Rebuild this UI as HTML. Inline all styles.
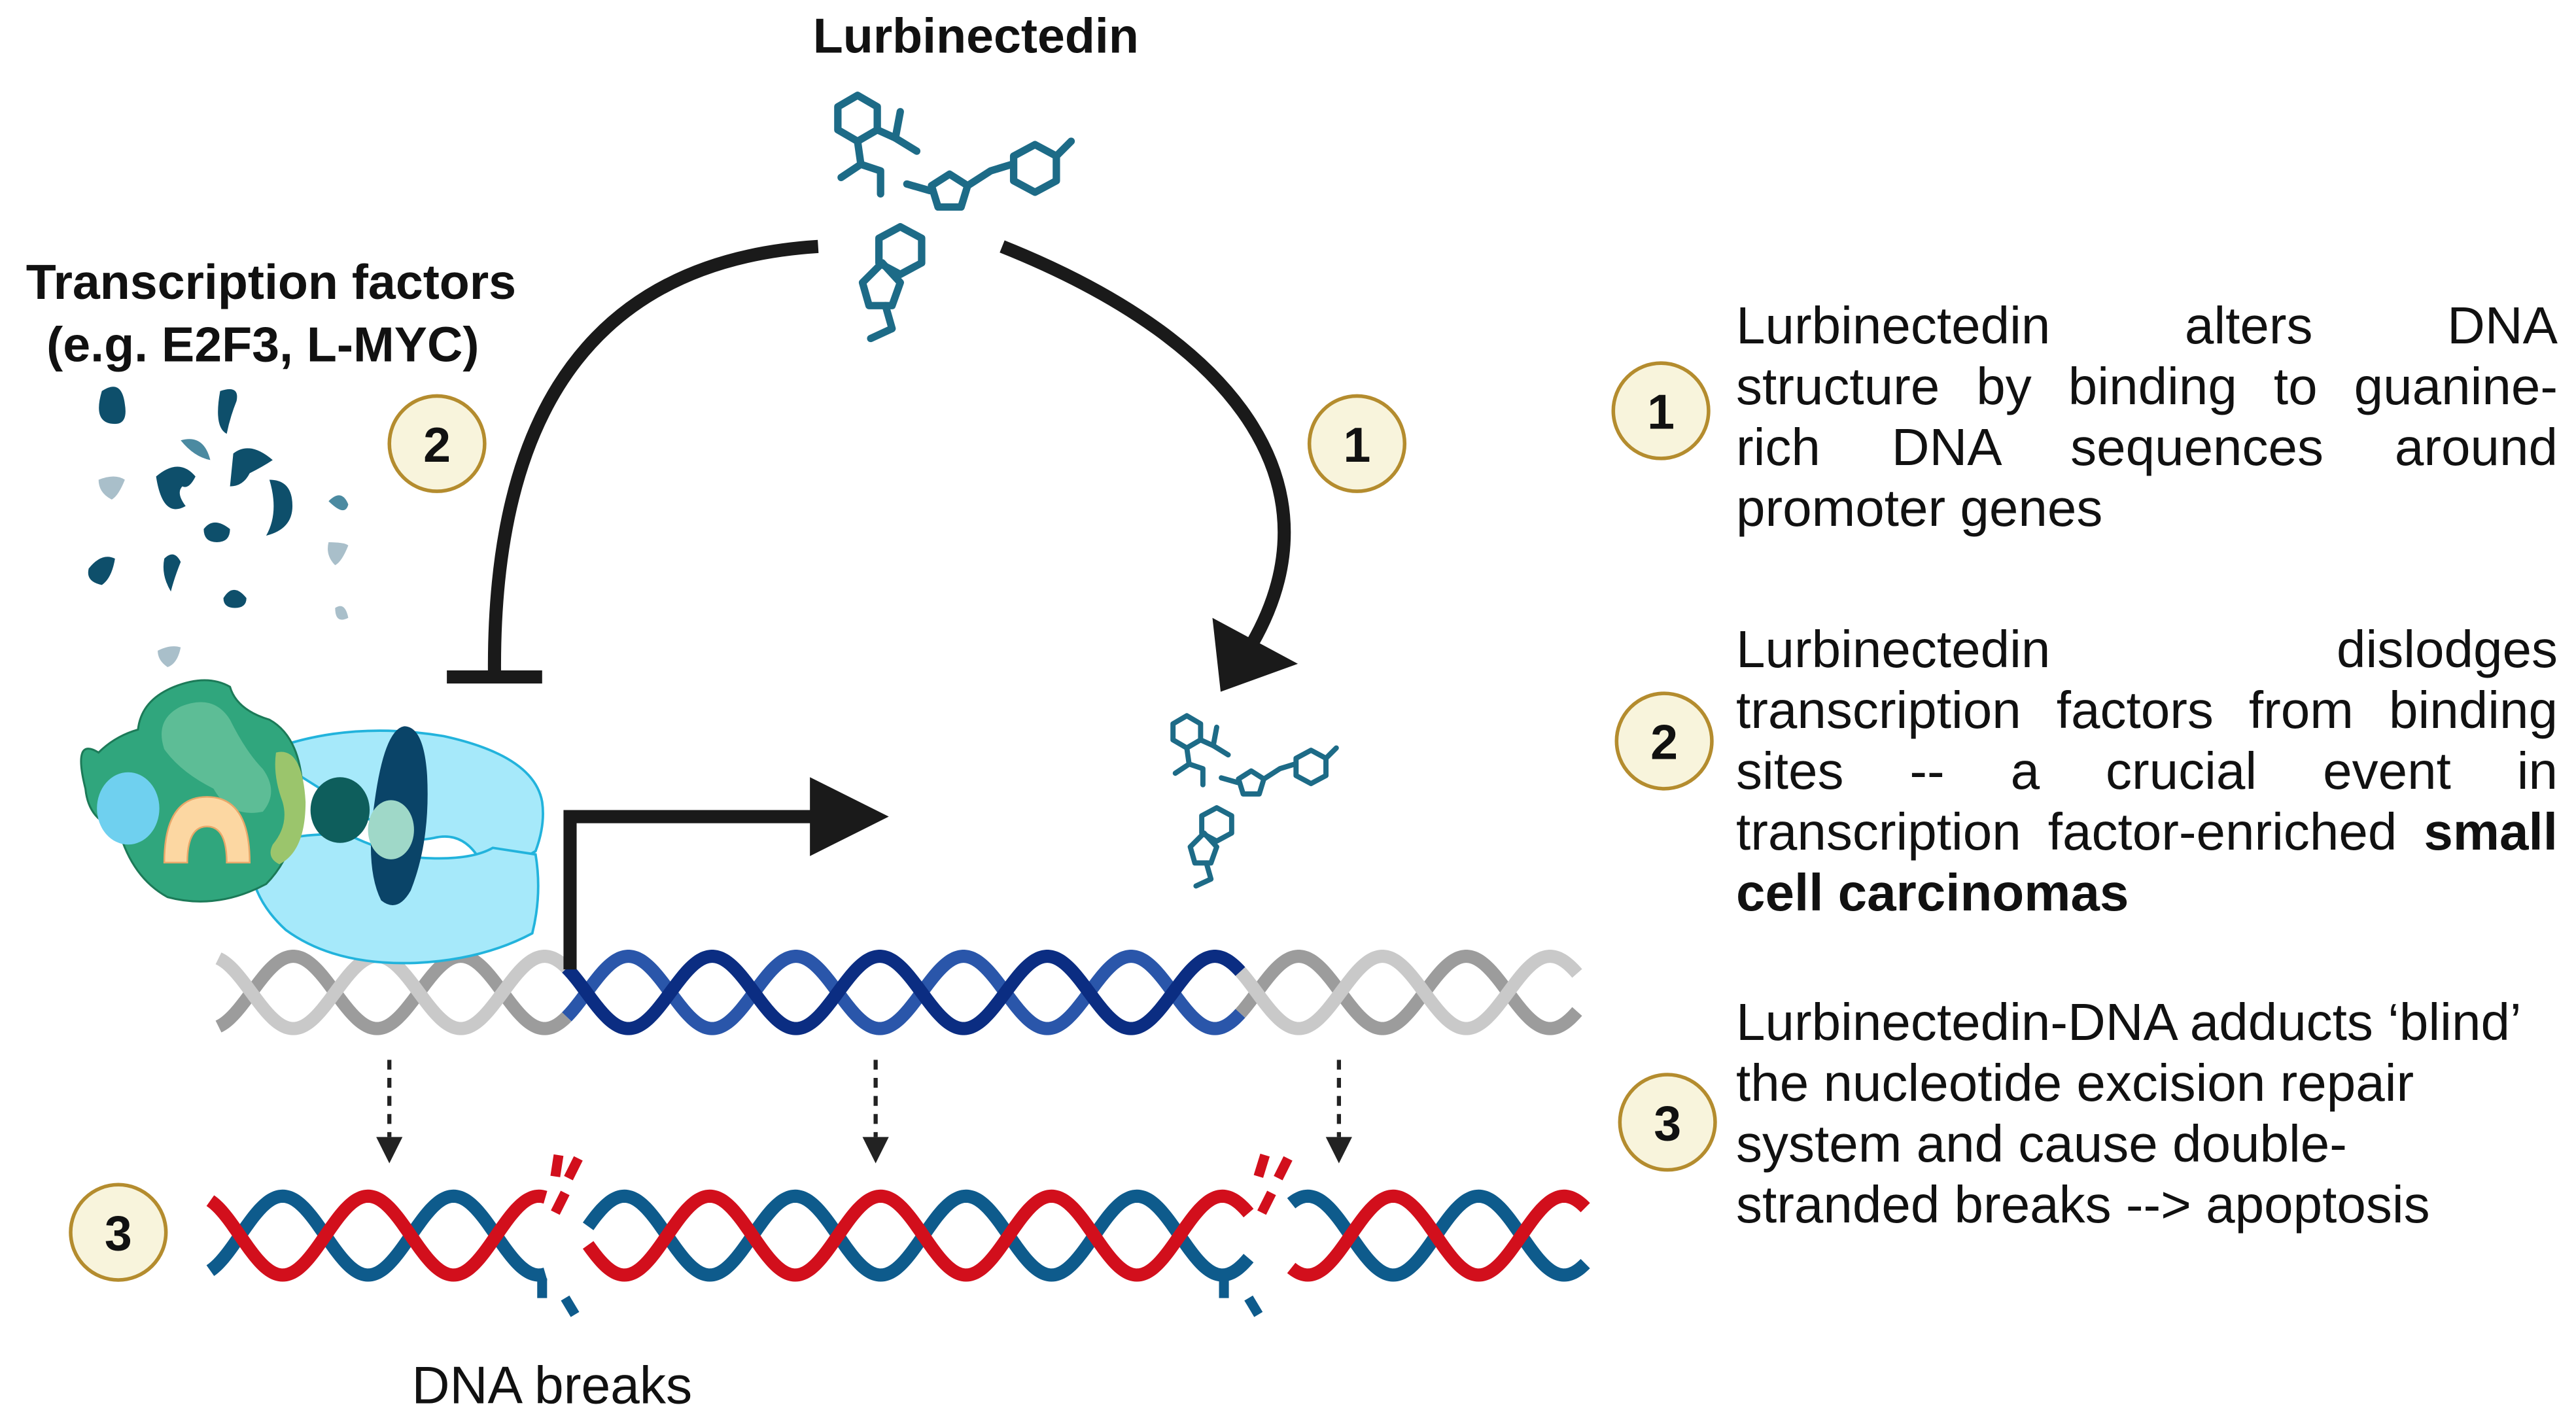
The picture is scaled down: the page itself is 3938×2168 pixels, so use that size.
<!DOCTYPE html>
<html><head><meta charset="utf-8"><style>
html,body{margin:0;padding:0;background:#fff}
#wrap{position:relative;width:3938px;height:2168px;overflow:hidden;font-family:"Liberation Sans",sans-serif}
svg{position:absolute;left:0;top:0}
.p{position:absolute;left:2654px;width:1256px;font-size:80px;line-height:93px;color:#111}
.j{text-align:justify;text-align-last:justify;white-space:nowrap}
.l{white-space:nowrap}
</style></head><body><div id="wrap">
<svg id="s" width="3938" height="2168" viewBox="0 0 1568 863" preserveAspectRatio="none">
<defs>
<g id="mol" fill="none" stroke="#1d6b87" stroke-width="4.5" stroke-linejoin="round" stroke-linecap="round">
<polygon points="522,58 534,65 534,79 522,86 510,79 510,65"/>
<polyline points="534,79 545,84 548,68"/><polyline points="545,84 558,92"/>
<polyline points="522,86 524,100 512,108"/><polyline points="524,100 536,104 536,118"/>
<polyline points="552,112 566,116"/>
<polygon points="578,106 589,113 585,126 571,126 567,113"/>
<polyline points="589,113 603,104 616,100"/>
<polygon points="630,88 643,95 643,110 630,117 617,110 617,95"/>
<polyline points="643,95 652,86"/>
<polygon points="548,138 561,145 561,160 548,167 535,160 535,145"/>
<polygon points="537,160 548,172 543,186 529,186 525,172"/>
<polyline points="539,186 543,200 530,206"/>
</g>
</defs>
<g id="helix"></g>
<text x="594" y="32" text-anchor="middle" font-family="Liberation Sans,sans-serif" font-weight="bold" font-size="30" fill="#111">Lurbinectedin</text>
<text x="165" y="182" text-anchor="middle" font-family="Liberation Sans,sans-serif" font-weight="bold" font-size="30" fill="#111">Transcription factors</text>
<text x="160" y="220" text-anchor="middle" font-family="Liberation Sans,sans-serif" font-weight="bold" font-size="30" fill="#111">(e.g. E2F3, L-MYC)</text>
<use href="#mol"/>
<use href="#mol" transform="translate(357,395) scale(0.7)"/>
<g fill="#0e4f6b">
<path d="M62,240 q12,-8 14,8 q2,12 -6,12 q-14,0 -8,-20z" transform="translate(0,-2)"/>
<path d="M134,238 q12,-4 10,6 q-4,10 -6,20 q-8,-4 -4,-26z"/>
<path d="M95,290 q14,-12 24,0 q-4,8 -8,6 q-4,4 2,12 q-14,8 -18,-18z"/>
<path d="M142,276 q10,-8 24,4 q-6,4 -14,8 q-4,8 -12,8 z"/>
<path d="M164,292 q14,0 14,16 q0,14 -16,18 q8,-14 2,-34z"/>
<path d="M124,322 q6,-8 16,0 q0,8 -8,8 q-8,0 -8,-8z"/>
<path d="M54,346 q8,-10 16,-6 q-2,12 -8,16 q-10,-2 -8,-10z"/>
<path d="M100,340 q6,-6 10,2 q-4,10 -6,18 q-6,-10 -4,-20z"/>
<path d="M136,364 q6,-10 14,0 q0,6 -7,6 q-7,0 -7,-6z"/>
</g>
<g fill="#4b8aa1"><path d="M110,268 q14,-4 18,12 q-10,-2 -18,-12z"/><path d="M200,305 q8,-8 12,2 q-2,8 -12,-2z"/></g>
<g fill="#a9bfca"><path d="M60,292 q10,-4 16,0 q-4,10 -8,12 q-8,-4 -8,-12z"/><path d="M200,330 q10,0 12,2 q-4,10 -8,12 q-6,-6 -4,-14z"/><path d="M96,396 q8,-4 14,-2 q-2,10 -8,12 q-6,-4 -6,-10z"/><path d="M204,370 q6,-4 8,6 q-8,4 -8,-6z"/></g>
<path d="M160,458 q50,-20 110,-10 q55,12 60,40 q2,14 -4,30 l-10,6 l-26,-4 q-10,-14 -26,-10 q-20,4 -34,-8z" fill="#a6e9fa" stroke="#22b3dc" stroke-width="1.5"/>
<path d="M152,520 q20,-14 60,-12 q20,10 44,14 q30,2 44,-6 l26,4 q4,24 -2,48 q-30,16 -70,18 q-50,2 -80,-20 q-22,-20 -22,-46z" fill="#a6e9fa" stroke="#22b3dc" stroke-width="1.5"/>
<path d="M60,458 q-16,-10 -8,22 q2,20 20,24 q8,30 30,42 q30,8 60,-8 q20,-20 22,-60 q-2,-30 -20,-40 q-20,-6 -24,-20 q-14,-8 -34,0 q-20,8 -22,26 q-14,4 -24,14z" fill="#30a67d" stroke="#1c7a58" stroke-width="1.2"/>
<path d="M110,430 q20,-8 30,8 q10,20 20,30 q10,14 0,26 q-20,4 -30,-14 q-20,-10 -30,-24 q-6,-18 10,-26z" fill="#5dbd96"/>
<ellipse cx="78" cy="492" rx="19" ry="22" fill="#6fd0ef"/>
<path d="M100,525 q0,-40 26,-40 q26,0 26,40 l-14,0 q0,-22 -12,-22 q-12,0 -12,22z" fill="#fcd7a2" stroke="#e8a86a" stroke-width="1"/>
<path d="M168,458 q16,-4 18,30 q0,30 -16,38 q-8,-4 -4,-12 q10,-12 6,-26 q-6,-16 -4,-30z" fill="#9bc56c"/>
<ellipse cx="207" cy="493" rx="18" ry="20" fill="#0e5e5c"/>
<path d="M246,442 q12,0 14,30 q2,40 -10,70 q-8,14 -18,6 q-10,-20 -4,-60 q6,-44 18,-46z" fill="#0a4468"/>
<ellipse cx="238" cy="505" rx="14" ry="18" fill="#9fd8c8"/>
<g fill="none" stroke="#1a1a1a" stroke-width="8">
<path d="M498,150 C340,160 300,280 301,410"/>
<path d="M272,412 L330,412"/>
<path d="M610,150 C760,210 815,300 762,392"/>
<path d="M347,590 L347,497 L500,497"/>
</g>
<polygon points="743,421 738,376 790,404" fill="#1a1a1a"/>
<polygon points="493,473 541,497 493,521" fill="#1a1a1a"/>
<g stroke="#222" stroke-width="2.5" stroke-dasharray="6,5" fill="none">
<line x1="237" y1="645" x2="237" y2="692"/><line x1="533" y1="645" x2="533" y2="692"/><line x1="815" y1="645" x2="815" y2="692"/>
</g>
<g fill="#222"><polygon points="229,692 245,692 237,708"/><polygon points="525,692 541,692 533,708"/><polygon points="807,692 823,692 815,708"/></g>
<g fill="#f8f4dc" stroke="#b48c2e" stroke-width="2.2">
<circle cx="266" cy="270" r="29"/><circle cx="826" cy="270" r="29"/><circle cx="72" cy="750" r="29"/>
<circle cx="1011" cy="250" r="29"/><circle cx="1013" cy="451" r="29"/><circle cx="1015" cy="683" r="29"/>
</g>
<g font-family="Liberation Sans,sans-serif" font-weight="bold" font-size="30" fill="#111" text-anchor="middle">
<text x="266" y="281">2</text><text x="826" y="281">1</text><text x="72" y="761">3</text>
<text x="1011" y="261">1</text><text x="1013" y="462">2</text><text x="1015" y="694">3</text>
</g>
<text x="336" y="854" text-anchor="middle" font-family="Liberation Sans,sans-serif" font-size="32" fill="#111">DNA breaks</text>
</svg>
<div class="p" style="top:451px"><div class="j">Lurbinectedin alters DNA</div><div class="j">structure by binding to guanine-</div><div class="j">rich DNA sequences around</div><div class="l">promoter genes</div></div>
<div class="p" style="top:946px"><div class="j">Lurbinectedin dislodges</div><div class="j">transcription factors from binding</div><div class="j">sites -- a crucial event in</div><div class="j">transcription factor-enriched <b>small</b></div><div class="l"><b>cell carcinomas</b></div></div>
<div class="p" style="top:1516px"><div class="l">Lurbinectedin-DNA adducts ‘blind’</div><div class="l">the nucleotide excision repair</div><div class="l">system and cause double-</div><div class="l">stranded breaks --&gt; apoptosis</div></div>
</div>
<script>
(function(){
var g=document.getElementById('helix'),NS='http://www.w3.org/2000/svg';
function wave(x0,x1,c,A,P,ph,col,w){var d='';for(var x=x0;x<=x1;x+=1){var y=c+A*Math.sin(2*Math.PI*x/P+ph);d+=(x==x0?'M':'L')+x+','+y.toFixed(2);}
var p=document.createElementNS(NS,'path');p.setAttribute('d',d);p.setAttribute('fill','none');p.setAttribute('stroke',col);p.setAttribute('stroke-width',w);g.appendChild(p);}
function seg(x0,x1,c1,c2){wave(x0,x1,604,22,102,0,c2,8);wave(x0,x1,604,22,102,Math.PI,c1,8);}
seg(133,345,'#c9c9c9','#9c9c9c');seg(345,755,'#0b2d82','#2a56aa');seg(755,960,'#c9c9c9','#9c9c9c');
function bseg(x0,x1){wave(x0,x1,752,24,104,0.6,'#0e5b8c',8);wave(x0,x1,752,24,104,0.6+Math.PI,'#d20f1c',8);}
bseg(128,332);bseg(358,760);bseg(786,965);
function frag(pts,col){var p=document.createElementNS(NS,'polyline');p.setAttribute('points',pts);p.setAttribute('fill','none');p.setAttribute('stroke',col);p.setAttribute('stroke-width',6);g.appendChild(p);}
frag('340,703 338,716','#d20f1c');frag('352,705 346,717','#d20f1c');frag('344,726 338,738','#d20f1c');
frag('330,778 330,790','#0e5b8c');frag('344,790 350,800','#0e5b8c');
frag('770,703 766,716','#d20f1c');frag('784,705 778,717','#d20f1c');frag('774,726 768,738','#d20f1c');
frag('745,778 745,790','#0e5b8c');frag('760,790 766,800','#0e5b8c');
})();
</script>
</body></html>
